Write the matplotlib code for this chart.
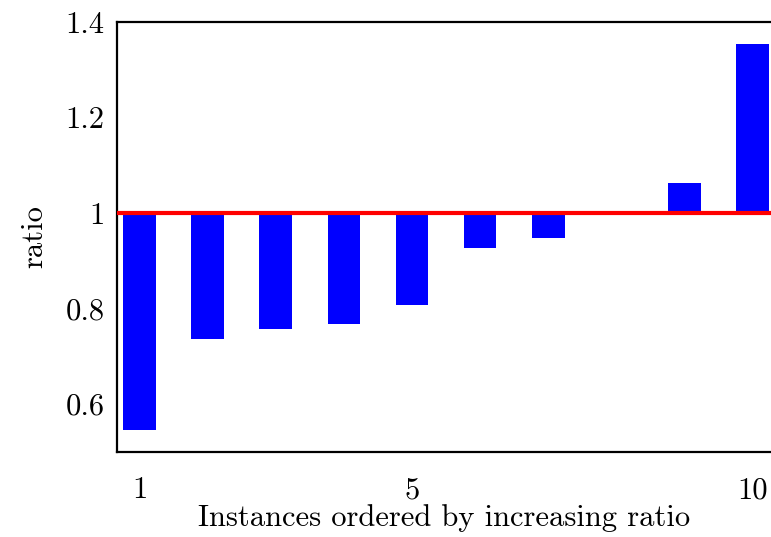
import numpy as np
import matplotlib.pyplot as plt

plt.rcParams['font.family'] = 'cmr10'
plt.rcParams['mathtext.fontset'] = 'cm'
plt.rcParams['axes.formatter.use_mathtext'] = True

instances = np.arange(1, 11)
ratios = [0.547, 0.737, 0.757, 0.767, 0.807, 0.927, 0.947, 1.0, 1.062, 1.353]
yticks = [0.6, 0.8, 1.0, 1.2, 1.4]
ytick_labels = ['0.6', '0.8', '1', '1.2', '1.4']
xticks = [1, 5, 10]


def main():
    fig = plt.figure(figsize=(7.71, 5.37), dpi=100)
    ax = fig.add_axes([0.1518, 0.1583, 0.8482, 0.8007])

    heights = [r - 1.0 for r in ratios]
    ax.bar(instances, heights, bottom=1.0, width=0.48, color='#0000ff', zorder=2)
    ax.axhline(1.0, color='#ff0000', lw=3, zorder=3)

    ax.set_xlim(0.67, 10.27)
    ax.set_ylim(0.5, 1.4)
    ax.set_xticks(xticks)
    ax.set_xticklabels([str(t) for t in xticks])
    ax.set_yticks(yticks)
    ax.set_yticklabels(ytick_labels)
    ax.tick_params(length=0, labelsize=22, pad=9)
    ax.tick_params(axis='x', pad=18)

    for s in ['left', 'top', 'bottom']:
        ax.spines[s].set_linewidth(1.6)
    ax.spines['right'].set_visible(False)

    ax.set_xlabel('Instances ordered by increasing ratio', fontsize=22, labelpad=0)
    ax.set_ylabel('ratio', fontsize=22, labelpad=12)

    fig.savefig('out.png', dpi=100)


if __name__ == "__main__":
    main()
